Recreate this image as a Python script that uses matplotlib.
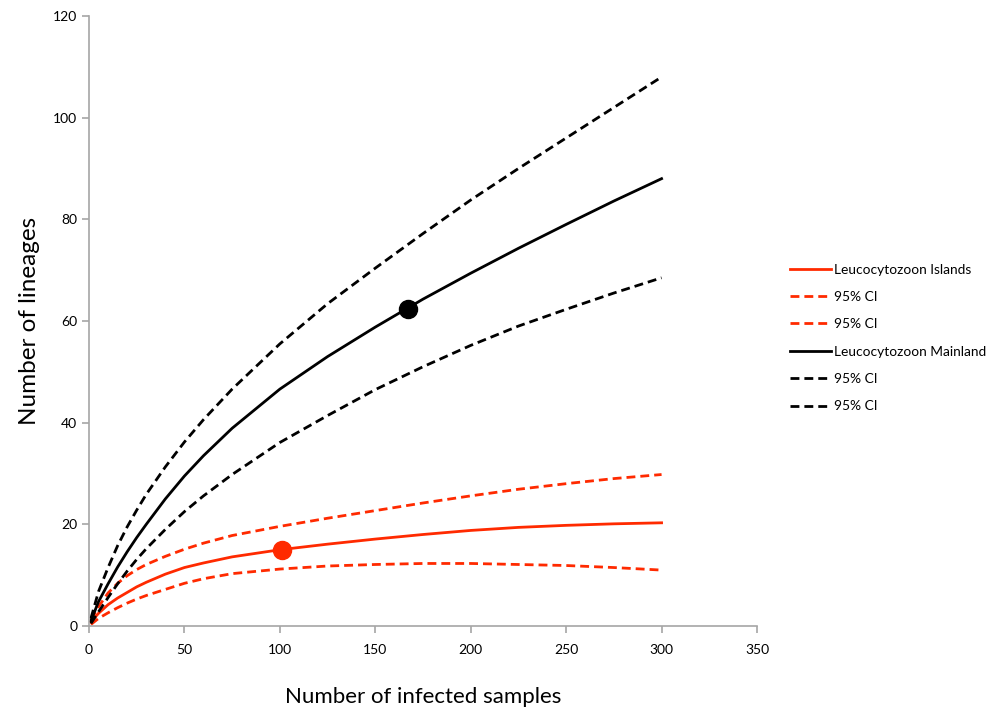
import numpy as np
import matplotlib
matplotlib.use("Agg")
import matplotlib.pyplot as plt

plt.rcParams['font.family'] = ['Lato', 'DejaVu Sans']

# sample sizes
n = [1, 5, 10, 15, 20, 25, 30, 40, 50, 60, 75, 100, 125, 150, 175, 200, 225, 250, 275, 300]

isl = [0.8, 2.5, 4.2, 5.5, 6.6, 7.7, 8.6, 10.2, 11.5, 12.4, 13.6, 15.0, 16.1, 17.1, 18.0, 18.8, 19.4, 19.8, 20.1, 20.3]
isl_hi = [1.2, 3.8, 6.5, 8.4, 9.9, 11.1, 12.1, 13.7, 15.1, 16.3, 17.8, 19.6, 21.2, 22.7, 24.2, 25.6, 26.9, 28.0, 29.0, 29.8]
isl_lo = [0.3, 1.5, 2.6, 3.6, 4.5, 5.3, 6.0, 7.2, 8.4, 9.3, 10.3, 11.2, 11.8, 12.1, 12.3, 12.3, 12.1, 11.9, 11.5, 11.0]

main = [1.0, 4.8, 8.3, 11.6, 14.6, 17.4, 20.0, 25.0, 29.5, 33.5, 38.9, 46.6, 53.0, 58.8, 64.3, 69.4, 74.3, 79.0, 83.6, 88.0]
main_hi = [1.5, 6.8, 11.5, 15.8, 19.5, 22.8, 25.9, 31.3, 36.2, 40.6, 46.6, 55.5, 63.4, 70.4, 77.2, 83.8, 90.0, 96.0, 102.0, 108.0]
main_lo = [0.5, 2.8, 5.6, 8.3, 10.8, 13.1, 15.2, 19.0, 22.5, 25.6, 29.8, 36.1, 41.4, 46.5, 51.0, 55.2, 59.0, 62.3, 65.5, 68.5]

# observed points
isl_obs = (101, 15.0)
main_obs = (167, 62.4)

red = '#ff2a00'
dash = (3.2, 1.8)

fig = plt.figure(figsize=(9.91, 7.16), dpi=100)
ax = fig.add_axes([89/991, 1-626/716, (757-89)/991, (626-16)/716])

ax.plot(n, isl, color=red, lw=2, label='Leucocytozoon Islands')
ax.plot(n, isl_hi, color=red, lw=2, dashes=dash, label='95% CI')
ax.plot(n, isl_lo, color=red, lw=2, dashes=dash, label='95% CI')
ax.plot(n, main, color='black', lw=2, label='Leucocytozoon Mainland')
ax.plot(n, main_hi, color='black', lw=2, dashes=dash, label='95% CI')
ax.plot(n, main_lo, color='black', lw=2, dashes=dash, label='95% CI')

ax.plot(*isl_obs, 'o', color=red, ms=13, zorder=5)
ax.plot(*main_obs, 'o', color='black', ms=13, zorder=5)

ax.set_xlim(0, 350)
ax.set_ylim(0, 120)
ax.set_xticks(np.arange(0, 351, 50))
ax.set_yticks(np.arange(0, 121, 20))

for s in ['top', 'right']:
    ax.spines[s].set_visible(False)
for s in ['left', 'bottom']:
    ax.spines[s].set_color('#a6a6a6')
    ax.spines[s].set_linewidth(1.2)
ax.tick_params(direction='out', length=5, width=1.2, color='#a6a6a6',
               labelsize=10, labelcolor='black')
ax.tick_params(axis='x', pad=8)
ax.tick_params(axis='y', pad=3.5)

ax.set_xlabel('Number of infected samples', fontsize=16)
ax.set_ylabel('Number of lineages', fontsize=17.5)
ax.xaxis.set_label_coords(0.5, -0.10)
ax.yaxis.set_label_coords(-0.074, 0.5)

fig.legend(loc='center left', bbox_to_anchor=(790/991, 1-338/716), frameon=False,
           fontsize=9.9, handlelength=3.0, handletextpad=0.2, labelspacing=1.12,
           borderpad=0, borderaxespad=0)

fig.savefig('out.png', dpi=100)
